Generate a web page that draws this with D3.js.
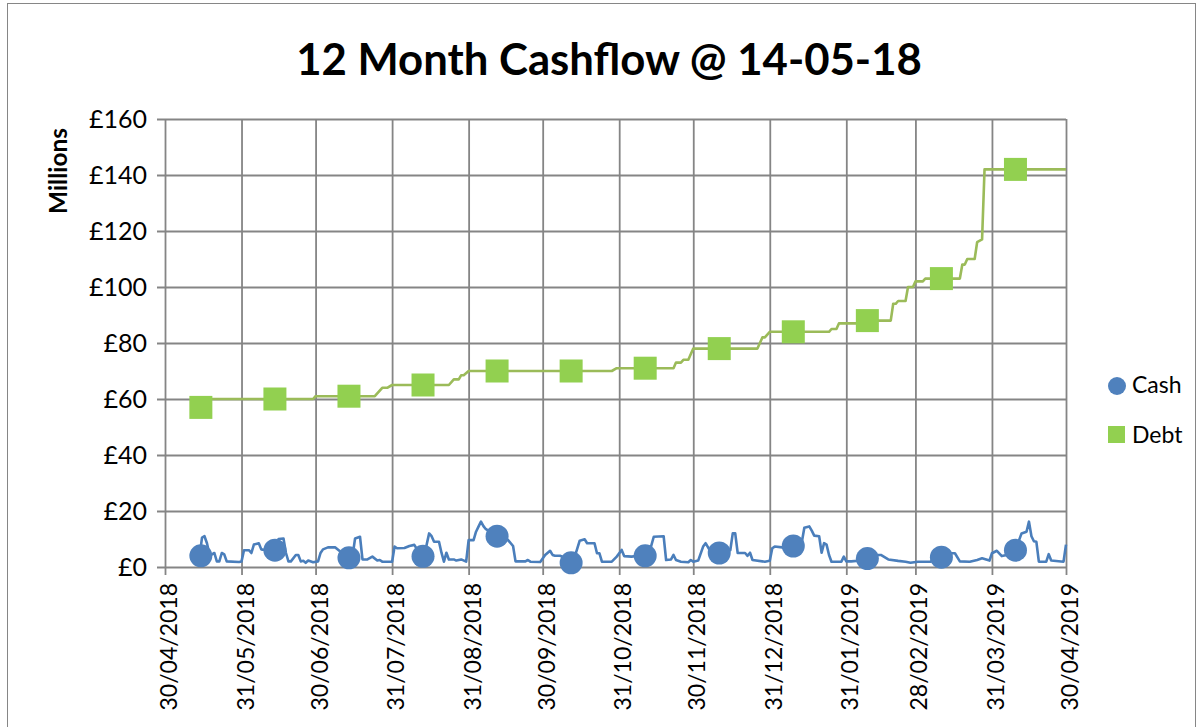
<!DOCTYPE html>
<html>
<head>
<meta charset="utf-8">
<script src="https://cdn.jsdelivr.net/npm/d3@7"></script>
<style>
  html, body { margin: 0; padding: 0; background: #ffffff; }
  svg { display: block; font-family: Lato, "Open Sans", sans-serif; }
</style>
</head>
<body>
<script>
// ---------------- DATA ----------------
const titleText = "12 Month Cashflow @ 14-05-18";
const yAxisTitle = "Millions";
const seriesNames = ["Cash", "Debt"];

const yTicks = [0, 20, 40, 60, 80, 100, 120, 140, 160];
const xTickDates = ["2018-04-30","2018-05-31","2018-06-30","2018-07-31","2018-08-31","2018-09-30",
                    "2018-10-31","2018-11-30","2018-12-31","2019-01-31","2019-02-28","2019-03-31","2019-04-30"];

// monthly snapshot markers
const markerDates = ["2018-05-14","2018-06-13","2018-07-13","2018-08-12","2018-09-11","2018-10-11",
                     "2018-11-10","2018-12-10","2019-01-09","2019-02-08","2019-03-10","2019-04-09"];
const cashMarkers = [4, 6, 3.3, 3.8, 11, 1.5, 4, 5, 7.5, 3, 3.5, 6];
const debtMarkers = [57, 60, 61, 65, 70, 70, 71, 78, 84, 88, 103, 142];

// daily balance lines (change points)
const cashLine = [
 ["2018-05-14",4],["2018-05-15",10.5],["2018-05-16",11],["2018-05-17",8.5],["2018-05-18",4.5],["2018-05-19",4.5],
 ["2018-05-20",5],["2018-05-21",2],["2018-05-22",2],["2018-05-23",5],["2018-05-24",4.5],["2018-05-25",2],
 ["2018-05-30",1.8],["2018-05-31",2],["2018-06-01",6],["2018-06-03",6],["2018-06-04",5],["2018-06-05",8],
 ["2018-06-07",8.5],["2018-06-08",6.3],["2018-06-10",6],["2018-06-13",6.5],["2018-06-15",10],["2018-06-17",10.2],
 ["2018-06-18",5],["2018-06-19",2],["2018-06-20",2],["2018-06-22",4.3],["2018-06-23",4.3],["2018-06-24",2],
 ["2018-06-25",2.2],["2018-06-26",1.5],["2018-06-27",2.3],["2018-06-29",1.7],["2018-07-01",2],["2018-07-02",5],
 ["2018-07-03",6.3],["2018-07-05",7],["2018-07-08",7],["2018-07-10",5.5],["2018-07-12",4],["2018-07-14",3.5],
 ["2018-07-15",4],["2018-07-16",10.2],["2018-07-18",10.8],["2018-07-19",2.7],["2018-07-21",2.7],["2018-07-23",3.7],
 ["2018-07-25",2.3],["2018-07-26",2.5],["2018-07-27",1.9],["2018-07-31",1.9],["2018-08-01",7.3],["2018-08-02",6.7],
 ["2018-08-05",6.8],["2018-08-07",7.5],["2018-08-09",7.9],["2018-08-11",5],["2018-08-13",4],["2018-08-15",12],
 ["2018-08-16",11],["2018-08-17",9],["2018-08-19",9],["2018-08-20",5.1],["2018-08-21",1.9],["2018-08-22",5.1],
 ["2018-08-23",2.7],["2018-08-25",2.7],["2018-08-26",2.3],["2018-08-28",2.7],["2018-08-30",1.9],["2018-08-31",9.6],
 ["2018-09-02",9.6],["2018-09-03",12.6],["2018-09-04",14.4],["2018-09-05",16.2],["2018-09-06",14.6],["2018-09-07",13.5],
 ["2018-09-09",12.5],["2018-09-11",11],["2018-09-14",10],["2018-09-16",9.6],["2018-09-18",7.5],["2018-09-19",2],
 ["2018-09-23",2],["2018-09-24",2.5],["2018-09-25",1.9],["2018-09-29",1.8],["2018-10-01",4.3],["2018-10-03",5.8],
 ["2018-10-04",4.3],["2018-10-05",4],["2018-10-07",4],["2018-10-10",3],["2018-10-13",3.7],["2018-10-15",9.4],
 ["2018-10-17",9.9],["2018-10-18",8.5],["2018-10-21",8.5],["2018-10-22",4.9],["2018-10-23",4.9],["2018-10-24",1.9],
 ["2018-10-28",1.9],["2018-10-30",3.7],["2018-11-01",6.1],["2018-11-02",3.9],["2018-11-05",3.7],["2018-11-08",4],
 ["2018-11-12",4.5],["2018-11-14",10.8],["2018-11-18",11],["2018-11-19",2.5],["2018-11-21",2.7],["2018-11-22",4.3],
 ["2018-11-23",2.5],["2018-11-25",1.9],["2018-11-28",1.7],["2018-11-29",2.5],["2018-11-30",1.9],["2018-12-02",2.3],
 ["2018-12-04",7.3],["2018-12-05",8.5],["2018-12-07",5.5],["2018-12-10",5],["2018-12-13",6],["2018-12-15",6],
 ["2018-12-16",12],["2018-12-17",12],["2018-12-18",5],["2018-12-21",5],["2018-12-22",4],["2018-12-23",5.1],
 ["2018-12-24",2.5],["2018-12-29",1.9],["2018-12-31",2.2],["2019-01-01",6.7],["2019-01-02",7.3],["2019-01-05",7],
 ["2019-01-07",6],["2019-01-11",7],["2019-01-13",9],["2019-01-14",14],["2019-01-16",14.5],["2019-01-17",13],
 ["2019-01-18",11.2],["2019-01-20",11],["2019-01-21",5.1],["2019-01-22",8.5],["2019-01-23",8],["2019-01-24",4.3],
 ["2019-01-25",1.9],["2019-01-29",1.9],["2019-01-30",3.7],["2019-01-31",2],["2019-02-02",2],["2019-02-06",2.3],
 ["2019-02-11",4.3],["2019-02-14",4.3],["2019-02-17",2.7],["2019-02-21",2.2],["2019-02-24",1.9],["2019-02-26",1.5],
 ["2019-03-01",1.9],["2019-03-06",1.9],["2019-03-09",3],["2019-03-12",4],["2019-03-14",4.9],["2019-03-16",4.9],
 ["2019-03-18",2],["2019-03-22",1.9],["2019-03-25",2.5],["2019-03-27",3.1],["2019-03-30",2.3],["2019-03-31",4.9],
 ["2019-04-02",5.8],["2019-04-04",3.9],["2019-04-07",4.5],["2019-04-09",7],["2019-04-11",9.6],["2019-04-12",12],
 ["2019-04-14",12.6],["2019-04-15",16.2],["2019-04-16",11],["2019-04-17",9.2],["2019-04-18",9],["2019-04-19",1.9],
 ["2019-04-22",1.9],["2019-04-23",4.6],["2019-04-24",2.3],["2019-04-29",1.9],["2019-04-30",8]
];

const debtLine = [
 ["2018-05-14",60],["2018-06-29",60],["2018-06-30",61],["2018-07-24",61],["2018-07-27",64],["2018-07-29",64],
 ["2018-07-31",65],["2018-08-23",65],["2018-08-25",67],["2018-08-27",67],["2018-08-28",68.5],["2018-08-29",68.5],
 ["2018-08-31",70],["2018-10-28",70],["2018-10-30",71],["2018-11-22",71],["2018-11-23",73],["2018-11-25",73],
 ["2018-11-26",74],["2018-11-28",74],["2018-11-30",78],["2018-12-26",78],["2018-12-28",82],["2018-12-29",82],
 ["2018-12-31",84],["2019-01-24",84],["2019-01-25",85],["2019-01-27",85],["2019-01-28",87],["2019-02-06",87],
 ["2019-02-07",88],["2019-02-18",88],["2019-02-19",94],["2019-02-20",94],["2019-02-21",95],["2019-02-24",95],
 ["2019-02-25",100],["2019-02-27",100],["2019-02-28",102],["2019-03-03",102],["2019-03-04",103],["2019-03-18",103],
 ["2019-03-19",108],["2019-03-20",108],["2019-03-21",110],["2019-03-24",110],["2019-03-25",116],["2019-03-27",117],
 ["2019-03-28",142],["2019-04-30",142]
];

// ---------------- CHART ----------------
const W = 1203, H = 727;
const parse = d3.timeParse("%Y-%m-%d");
const fmt = d3.timeFormat("%d/%m/%Y");

const svg = d3.select("body").append("svg").attr("width", W).attr("height", H);

// chart area border
svg.append("rect").attr("x", 7.5).attr("y", 3.5).attr("width", 1188).attr("height", 760)
  .attr("fill", "#fff").attr("stroke", "#868686").attr("stroke-width", 1);

const x = d3.scaleTime().domain([parse("2018-04-30"), parse("2019-04-30")]).range([165, 1066]);
const y = d3.scaleLinear().domain([0, 160]).range([567, 119]);

const gridColor = "#858585";

// horizontal gridlines + y labels via axis
const yAxis = d3.axisLeft(y).tickValues(yTicks).tickFormat(d => "£" + d)
  .tickSizeInner(-(1066 - 157)).tickSizeOuter(0).tickPadding(10);
const gy = svg.append("g").attr("transform", "translate(157,0)").call(yAxis);
gy.select(".domain").remove();
gy.selectAll(".tick line").attr("stroke", gridColor).attr("stroke-width", 1.8);
gy.selectAll(".tick text").attr("fill", "#000").attr("font-size", 25).attr("font-family", "Lato");

// vertical gridlines + x labels via axis
const xDates = xTickDates.map(parse);
const xAxis = d3.axisBottom(x).tickValues(xDates).tickFormat(fmt)
  .tickSizeInner(8).tickSizeOuter(0);
const gx = svg.append("g").attr("transform", "translate(0,567)").call(xAxis);
gx.select(".domain").remove();
gx.selectAll(".tick line").attr("stroke", gridColor).attr("stroke-width", 1.8).attr("y1", -(567 - 119));
gx.selectAll(".tick text")
  .attr("fill", "#000").attr("font-size", 23).attr("font-family", "Lato")
  .attr("transform", "rotate(-90)").attr("x", -16).attr("y", 0).attr("dy", "0.5em")
  .style("text-anchor", "end");

// lines
const line = d3.line().x(d => x(parse(d[0]))).y(d => y(d[1]));
svg.append("path").datum(debtLine).attr("d", line)
  .attr("fill", "none").attr("stroke", "#9BBB59").attr("stroke-width", 2.6).attr("stroke-linejoin", "round");
svg.append("path").datum(cashLine).attr("d", line)
  .attr("fill", "none").attr("stroke", "#4A7EBB").attr("stroke-width", 2.6).attr("stroke-linejoin", "round");

// markers
const mDates = markerDates.map(parse);
const sq = 23;
svg.append("g").selectAll("rect").data(debtMarkers).join("rect")
  .attr("x", (d, i) => x(mDates[i]) + 1.3 - sq / 2).attr("y", d => y(d) - sq / 2)
  .attr("width", sq).attr("height", sq).attr("fill", "#92D050");
svg.append("g").selectAll("circle").data(cashMarkers).join("circle")
  .attr("cx", (d, i) => x(mDates[i]) + 1.3).attr("cy", d => y(d)).attr("r", 11.5)
  .attr("fill", "#4F81BD");

// title
const title = svg.append("text").attr("x", 609).attr("y", 75).attr("text-anchor", "middle")
  .attr("font-family", "Lato").attr("font-weight", "bold").attr("font-size", 40).attr("fill", "#000")
  .text(titleText);
{
  const len = title.node().getComputedTextLength();
  if (len > 0) title.attr("font-size", 40 * 626 / len);
}

// y axis title
const yt = svg.append("text").attr("transform", "translate(67,171) rotate(-90)").attr("text-anchor", "middle")
  .attr("font-family", "Lato").attr("font-weight", "bold").attr("font-size", 20).attr("fill", "#000")
  .text(yAxisTitle);
{
  const len = yt.node().getComputedTextLength();
  if (len > 0) yt.attr("font-size", 20 * 86 / len);
}

// legend
const lg = svg.append("g");
lg.append("circle").attr("cx", 1117).attr("cy", 386).attr("r", 9).attr("fill", "#4F81BD");
lg.append("text").attr("x", 1132).attr("y", 393).attr("font-family", "Lato").attr("font-size", 23)
  .attr("fill", "#000").text(seriesNames[0]);
lg.append("rect").attr("x", 1108).attr("y", 426).attr("width", 17).attr("height", 17).attr("fill", "#92D050");
lg.append("text").attr("x", 1132).attr("y", 443).attr("font-family", "Lato").attr("font-size", 23)
  .attr("fill", "#000").text(seriesNames[1]);
</script>
</body>
</html>
